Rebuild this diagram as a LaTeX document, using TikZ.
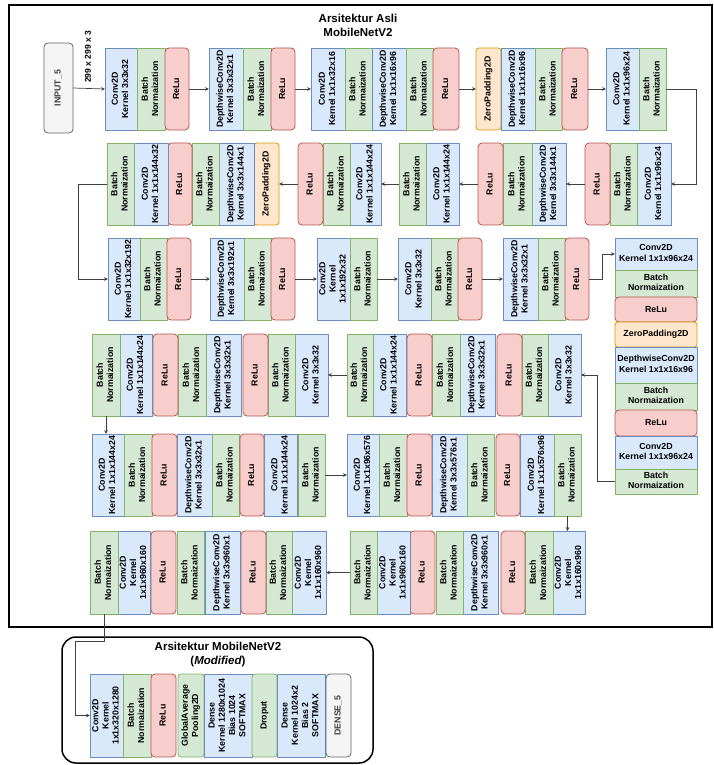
\documentclass[tikz,border=0pt]{standalone}
\usepackage{fontspec}
\setmainfont{Liberation Sans}
\usepackage{graphicx}
\usetikzlibrary{arrows.meta}
\definecolor{convF}{HTML}{DAE8FC}\definecolor{convD}{HTML}{6C8EBF}
\definecolor{bnF}{HTML}{D5E8D4}\definecolor{bnD}{HTML}{82B366}
\definecolor{reF}{HTML}{F8CECC}\definecolor{reD}{HTML}{B85450}
\definecolor{zpF}{HTML}{FFE6CC}\definecolor{zpD}{HTML}{D79B00}
\definecolor{ioF}{HTML}{F5F5F5}\definecolor{ioD}{HTML}{666666}
\newcommand{\vt}[1]{\rotatebox{90}{\begin{tabular}{@{}c@{}}#1\end{tabular}}}
\newcommand{\hz}[1]{\begin{tabular}{@{}c@{}}#1\end{tabular}}
\newcommand{\bnT}{\vt{Batch\\Normaization}}
\newcommand{\reT}{\vt{ReLu}}
\newcommand{\bx}[7]{\node[#1, minimum width={(#4-#3)*1pt}, minimum height={(#6-#5)*1pt}] (#2) at ({(#3+#4)/2},{(#5+#6)/2}) {#7};}
\tikzset{
  box/.style={draw, line width=0.8pt, inner sep=0pt, outer sep=0pt, font=\fontsize{8.8}{10.2}\selectfont\bfseries, text=black},
  conv/.style={box, fill=convF, draw=convD},
  bn/.style={box, fill=bnF, draw=bnD},
  bnr/.style={bn, rounded corners=3pt},
  relu/.style={box, fill=reF, draw=reD, rounded corners=4pt},
  zp/.style={box, fill=zpF, draw=zpD, rounded corners=3pt},
  io/.style={box, fill=ioF, draw=ioD, rounded corners=4pt, text=black!75},
  arr/.style={draw=black!75, line width=0.7pt, -{Stealth[length=4pt, width=3.6pt]}},
  ttl/.style={font=\fontsize{11.5}{14}\selectfont\bfseries, align=center, inner sep=0pt}
}
\begin{document}
\begin{tikzpicture}[x=1pt, y=-1pt]
\useasboundingbox (0,0) rectangle (714,765);
\draw[line width=1.5pt] (9,5) rectangle (712,627);
\node[ttl] (t1) at (358,25) {Arsitektur Asli\\MobileNetV2};
% Row 1
\bx{io}{in5}{44}{73}{43}{133}{\vt{INPUT\_5}}
\node[font=\fontsize{8.5}{9}\selectfont\bfseries, rotate=90, inner sep=0pt] (lbl) at (88,57) {299 x 299 x 3};
\bx{conv}{c1}{105}{137}{48}{130}{\vt{Conv2D\\Kernel 3x3x32}}
\bx{bn}{b1}{137}{165}{48}{130}{\bnT}
\bx{relu}{r1}{165}{189}{48}{130}{\reT}
\bx{conv}{d2}{209}{243}{48}{130}{\vt{DepthwiseConv2D\\Kernel 3x3x32x1}}
\bx{bn}{b2}{243}{271}{48}{130}{\bnT}
\bx{relu}{r2}{271}{295}{48}{130}{\reT}
\bx{conv}{c3}{311}{345}{48}{130}{\vt{Conv2D\\Kernel 1x1x32x16}}
\bx{bn}{b3}{345}{372}{48}{130}{\bnT}
\bx{conv}{d3}{372}{406}{48}{130}{\vt{DepthwiseConv2D\\Kernel 1x1x16x96}}
\bx{bn}{b3b}{406}{433}{48}{130}{\bnT}
\bx{relu}{r3}{433}{459}{48}{130}{\reT}
\bx{zp}{z4}{476}{501}{48}{130}{\vt{ZeroPadding2D}}
\bx{conv}{d4}{501}{535}{48}{130}{\vt{DepthwiseConv2D\\Kernel 1x1x16x96}}
\bx{bn}{b4}{535}{562}{48}{130}{\bnT}
\bx{relu}{r4}{562}{588}{48}{130}{\reT}
\bx{conv}{c5}{606}{639}{48}{130}{\vt{Conv2D\\Kernel 1x1x96x24}}
\bx{bn}{b5}{639}{666}{48}{130}{\bnT}
\draw[arr] (in5.east) -- (c1.west);
\draw[arr] (r1) -- (d2);
\draw[arr] (r2) -- (c3);
\draw[arr] (r3) -- (z4);
\draw[arr] (r4) -- (c5);
% Row 2
\bx{conv}{c6}{637}{671}{143}{225}{\vt{Conv2D\\Kernel 1x1x96x24}}
\bx{bn}{b6}{610}{637}{143}{225}{\bnT}
\bx{relu}{r6}{585}{610}{143}{225}{\reT}
\bx{conv}{d7}{532}{566}{143}{225}{\vt{DepthwiseConv2D\\Kernel 3x3x144x1}}
\bx{bn}{b7}{503}{532}{143}{225}{\bnT}
\bx{relu}{r7}{478}{503}{143}{225}{\reT}
\bx{conv}{c8}{426}{459}{143}{225}{\vt{Conv2D\\Kernel 1x1x144x24}}
\bx{bn}{b8}{399}{426}{143}{225}{\bnT}
\bx{conv}{c9}{350}{381}{143}{225}{\vt{Conv2D\\Kernel 1x1x144x24}}
\bx{bn}{b9}{323}{350}{143}{225}{\bnT}
\bx{relu}{r9}{298}{323}{143}{225}{\reT}
\bx{zp}{z10}{254}{279}{143}{225}{\vt{ZeroPadding2D}}
\bx{conv}{d10}{219}{254}{143}{225}{\vt{DepthwiseConv2D\\Kernel 3x3x144x1}}
\bx{bn}{b10}{192}{219}{143}{225}{\bnT}
\bx{relu}{r10}{168}{192}{143}{225}{\reT}
\bx{conv}{c10}{134}{168}{143}{225}{\vt{Conv2D\\Kernel 1x1x144x32}}
\bx{bn}{b10b}{107}{134}{143}{225}{\bnT}
\draw[arr] (b5.east) -- ++(30,0) |- (c6.east);
\draw[arr] (r6) -- (d7);
\draw[arr] (r7) -- (c8);
\draw[arr] (b8) -- (c9);
\draw[arr] (r9) -- (z10);
% Row 3
\bx{conv}{c11}{108}{140}{238}{320}{\vt{Conv2D\\Kernel 1x1x32x192}}
\bx{bn}{b11}{140}{167}{238}{320}{\bnT}
\bx{relu}{r11}{167}{191}{238}{320}{\reT}
\bx{conv}{d12}{210}{244}{238}{320}{\vt{DepthwiseConv2D\\Kernel 3x3x192x1}}
\bx{bn}{b12}{244}{271}{238}{320}{\bnT}
\bx{relu}{r12}{271}{295}{238}{320}{\reT}
\bx{conv}{c13}{317}{350}{238}{320}{\vt{Conv2D\\Kernel\\1x1x192x32}}
\bx{bn}{b13}{350}{377}{238}{320}{\bnT}
\bx{conv}{c14}{398}{431}{238}{320}{\vt{Conv2D\\Kernel 3x3x32}}
\bx{bn}{b14}{431}{458}{238}{320}{\bnT}
\bx{relu}{r14}{458}{482}{238}{320}{\reT}
\bx{conv}{d15}{503}{538}{238}{320}{\vt{DepthwiseConv2D\\Kernel 3x3x32x1}}
\bx{bn}{b15}{538}{565}{238}{320}{\bnT}
\bx{relu}{r15}{565}{589}{238}{320}{\reT}
\draw[arr] (b10b.west) -- ++(-29,0) |- (c11.west);
\draw[arr] (r11) -- (d12);
\draw[arr] (r12) -- (c13);
\draw[arr] (b13) -- (c14);
\draw[arr] (r14) -- (d15);
% Right column
\bx{conv}{s1}{615}{697}{238}{270}{\hz{Conv2D\\Kernel 1x1x96x24}}
\bx{bn}{s2}{615}{697}{270}{297}{\hz{Batch\\Normaization}}
\bx{relu}{s3}{615}{697}{297}{322}{ReLu}
\bx{zp}{s4}{615}{697}{322}{347}{ZeroPadding2D}
\bx{conv}{s5}{615}{697}{347}{383}{\hz{DepthwiseConv2D\\Kernel 1x1x16x96}}
\bx{bn}{s6}{615}{697}{383}{410}{\hz{Batch\\Normaization}}
\bx{relu}{s7}{615}{697}{410}{436}{ReLu}
\bx{conv}{s8}{615}{697}{436}{469}{\hz{Conv2D\\Kernel 1x1x96x24}}
\bx{bn}{s9}{615}{697}{469}{494}{\hz{Batch\\Normaization}}
\draw[arr] (r15.east) -- ++(13,0) |- (s1.west);
% Row 4
\bx{conv}{c16}{548}{581}{334}{416}{\vt{Conv2D\\Kernel 3x3x32}}
\bx{bn}{b16}{522}{548}{334}{416}{\bnT}
\bx{relu}{r16}{497}{522}{334}{416}{\reT}
\bx{conv}{d17}{460}{495}{334}{416}{\vt{DepthwiseConv2D\\Kernel 3x3x32x1}}
\bx{bn}{b17}{432}{460}{334}{416}{\bnT}
\bx{relu}{r17}{407}{432}{334}{416}{\reT}
\bx{conv}{c18}{373}{406}{334}{416}{\vt{Conv2D\\Kernel 1x1x144x24}}
\bx{bn}{b18}{347}{373}{334}{416}{\bnT}
\bx{conv}{c19}{295}{328}{334}{416}{\vt{Conv2D\\Kernel 3x3x32}}
\bx{bn}{b19}{268}{295}{334}{416}{\bnT}
\bx{relu}{r19}{243}{268}{334}{416}{\reT}
\bx{conv}{d20}{206}{241}{334}{416}{\vt{DepthwiseConv2D\\Kernel 3x3x32x1}}
\bx{bn}{b20}{178}{206}{334}{416}{\bnT}
\bx{relu}{r20}{153}{178}{334}{416}{\reT}
\bx{conv}{c21}{120}{152}{334}{416}{\vt{Conv2D\\Kernel 1x1x144x24}}
\bx{bn}{b21}{92}{120}{334}{416}{\bnT}
\draw[arr] (s9.west) -- ++(-18,0) |- (c16.east);
\draw[arr] (b18) -- (c19);
% Row 5
\bx{conv}{c22}{92}{124}{434}{516}{\vt{Conv2D\\Kernel 1x1x144x24}}
\bx{bn}{b22}{124}{152}{434}{516}{\bnT}
\bx{relu}{r22}{152}{177}{434}{516}{\reT}
\bx{conv}{d23}{177}{212}{434}{516}{\vt{DepthwiseConv2D\\Kernel 3x3x32x1}}
\bx{bn}{b23}{212}{239}{434}{516}{\bnT}
\bx{relu}{r23}{240}{264}{434}{516}{\reT}
\bx{conv}{c24}{264}{297}{434}{516}{\vt{Conv2D\\Kernel 1x1x144x24}}
\bx{bn}{b24}{298}{325}{434}{516}{\bnT}
\bx{conv}{c25}{347}{379}{434}{516}{\vt{Conv2D\\Kernel 1x1x96x576}}
\bx{bn}{b25}{379}{407}{434}{516}{\bnT}
\bx{relu}{r25}{407}{432}{434}{516}{\reT}
\bx{conv}{d26}{432}{467}{434}{516}{\vt{DepthwiseConv2D\\Kernel 3x3x576x1}}
\bx{bn}{b26}{467}{494}{434}{516}{\bnT}
\bx{relu}{r26}{496}{520}{434}{516}{\reT}
\bx{conv}{c27}{520}{554}{434}{516}{\vt{Conv2D\\Kernel 1x1x576x96}}
\bx{bn}{b27}{554}{581}{434}{516}{\bnT}
\draw[arr] (b21.south) -- (b21.south |- c22.north);
\draw[arr] (b24) -- (c25);
% Row 6
\bx{conv}{c28}{553}{585}{531}{614}{\vt{Conv2D\\Kernel\\1x1x160x960}}
\bx{bn}{b28}{525}{553}{531}{614}{\bnT}
\bx{relu}{r28}{501}{525}{531}{614}{\reT}
\bx{conv}{d29}{463}{498}{531}{614}{\vt{DepthwiseConv2D\\Kernel 3x3x960x1}}
\bx{bn}{b29}{436}{463}{531}{614}{\bnT}
\bx{relu}{r29}{410}{435}{531}{614}{\reT}
\bx{conv}{c30}{377}{410}{531}{614}{\vt{Conv2D\\Kernel\\1x1x960x160}}
\bx{bn}{b30}{350}{377}{531}{614}{\bnT}
\bx{conv}{c31}{292}{326}{531}{614}{\vt{Conv2D\\Kernel\\1x1x160x960}}
\bx{bn}{b31}{266}{292}{531}{614}{\bnT}
\bx{relu}{r31}{241}{266}{531}{614}{\reT}
\bx{conv}{d32}{205}{240}{531}{614}{\vt{DepthwiseConv2D\\Kernel 3x3x960x1}}
\bx{bn}{b32}{177}{204}{531}{614}{\bnT}
\bx{relu}{r32}{151}{176}{531}{614}{\reT}
\bx{conv}{c33}{118}{150}{531}{614}{\vt{Conv2D\\Kernel\\1x1x960x160}}
\bx{bn}{b33}{90}{118}{531}{614}{\bnT}
\draw[arr] (b27.south) -- (b27.south |- c28.north);
\draw[arr] (b30) -- (c31);
% Modified part
\draw[line width=1.5pt, rounded corners=14pt] (62,637) rectangle (373,763);
\node[ttl] (t2) at (218,655) {Arsitektur MobileNetV2\\(\textit{Modified})};
\bx{conv}{c34}{90}{123}{674}{757}{\vt{Conv2D\\Kernel\\1x1x320x1280}}
\bx{bn}{b34}{123}{151}{674}{757}{\bnT}
\bx{relu}{r34}{151}{176}{674}{757}{\reT}
\bx{bnr}{g35}{178}{204}{674}{757}{\vt{GlobalAverage\\Pooling2D}}
\bx{conv}{e36}{204}{252}{674}{757}{\vt{Dense\\Kernel 1280x1024\\Bias 1024\\SOFTMAX}}
\bx{bnr}{o37}{252}{277}{674}{757}{\vt{Droput}}
\bx{conv}{e38}{277}{325}{674}{757}{\vt{Dense\\Kernel 1024x2\\Bias 2\\SOFTMAX}}
\bx{io}{n39}{326}{351}{674}{757}{\vt{DENSE\_5}}
\draw[arr] (b33.south) -- ++(0,27) -- ++(-29,0) |- (c34.west);
\end{tikzpicture}
\end{document}
